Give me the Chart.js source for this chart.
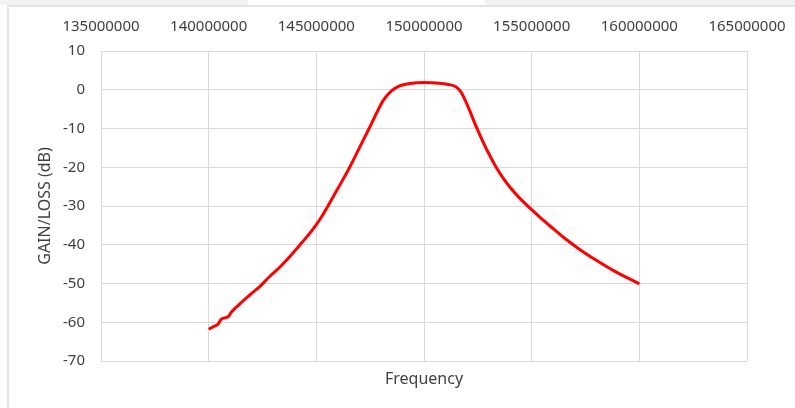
<!DOCTYPE html>
<html>
<head>
<meta charset="utf-8">
<script src="https://cdn.jsdelivr.net/npm/chart.js@4/dist/chart.umd.min.js"></script>
<style>
  html, body { margin: 0; padding: 0; background: #ffffff; }
  #wrap { position: relative; width: 795px; height: 408px; overflow: hidden; }
  .band { position: absolute; top: 0; height: 5px; background: #f2f2f2; }
  #frame {
    position: absolute; left: 7px; top: 5px; width: 800px; height: 420px;
    border-left: 2px solid #e3e3e3; border-top: 2px solid #e3e3e3;
  }
  #chartBox { position: absolute; left: 0; top: 0; width: 795px; height: 408px; }
</style>
</head>
<body>
<div id="wrap">
  <div class="band" style="left:0;width:248px"></div>
  <div class="band" style="left:485px;width:310px"></div>
  <div id="frame"></div>
  <div id="chartBox"><canvas id="filterChart"></canvas></div>
</div>
<script>
// --------------------------------
// Data (Hz, dB)
// --------------------------------
const freqHz = [
  140.0e6, 140.2e6, 140.43e6, 140.59e6, 140.9e6, 141.05e6, 141.44e6, 141.9e6,
  142.37e6, 142.83e6, 143.3e6, 143.76e6, 144.23e6, 144.7e6, 145.0e6, 145.23e6,
  145.54e6, 146.05e6, 146.55e6, 147.0e6, 147.45e6, 147.8e6, 148.1e6, 148.49e6,
  148.87e6, 149.34e6, 150.0e6, 150.73e6, 151.2e6, 151.43e6, 151.6e6, 151.74e6,
  152.04e6, 152.43e6, 152.73e6, 153.0e6, 153.33e6, 153.7e6, 154.06e6, 154.5e6,
  154.91e6, 155.4e6, 155.84e6, 156.46e6, 157.23e6, 158.0e6, 158.78e6, 160.0e6
];
const gainDb = [
  -61.8, -61.2, -60.5, -59.2, -58.6, -57.4, -55.3, -53.0,
  -50.8, -48.2, -45.8, -43.1, -40.1, -37.0, -34.8, -32.9,
  -30.0, -25.0, -20.0, -15.0, -10.0, -6.0, -2.8, -0.3,
  1.0, 1.6, 1.9, 1.7, 1.3, 0.9, 0.2, -0.8,
  -4.3, -9.6, -13.3, -16.4, -19.8, -23.0, -25.6, -28.3,
  -30.5, -33.0, -35.1, -38.0, -41.2, -44.0, -46.6, -50.1
];
const xTicksMin = 135000000;
const xTicksMax = 165000000;
const xTickStep = 5000000;
const yTicksMin = -70;
const yTicksMax = 10;
const yTickStep = 10;

// -------------------------------
// Chart
// -------------------------------
const ctx = document.getElementById("filterChart").getContext("2d");
const points = freqHz.map((f, i) => ({ x: f, y: gainDb[i] }));

const FONT = "'Noto Sans', 'Open Sans', sans-serif";
const TXT = "#404040";
const GRID = "#d9d9d9";

// keep the plot box where the reference has it
const fixTop = (s) => { s.height = 51; s.paddingLeft = 0; s.paddingRight = 0; };
const fixBottom = (s) => { s.height = 47; s.paddingLeft = 0; s.paddingRight = 0; };

new Chart(ctx, {
  type: "line",
  data: {
    datasets: [
      {
        label: "Gain",
        data: points,
        borderColor: "#ff0000",
        borderWidth: 3,
        pointRadius: 0,
        cubicInterpolationMode: "monotone",
        fill: false,
        xAxisID: "x",
        yAxisID: "y",
      },
    ],
  },
  options: {
    responsive: true,
    maintainAspectRatio: false,
    animation: false,
    layout: { padding: { left: 0, right: 48, top: 0, bottom: 0 } },
    plugins: { legend: { display: false }, tooltip: { enabled: false } },
    scales: {
      x: {
        type: "linear",
        position: "top",
        min: xTicksMin,
        max: xTicksMax,
        afterFit: fixTop,
        border: { display: false },
        grid: { color: GRID, lineWidth: 1, drawTicks: false },
        ticks: {
          stepSize: xTickStep,
          padding: 15,
          color: TXT,
          font: { family: FONT, size: 15 },
          maxRotation: 0,
          callback: (v) => String(v),
        },
      },
      x2: {
        type: "linear",
        position: "bottom",
        min: xTicksMin,
        max: xTicksMax,
        afterFit: fixBottom,
        border: { display: false },
        grid: { display: false, drawTicks: false },
        ticks: { display: false },
        title: {
          display: true,
          text: "Frequency",
          color: TXT,
          font: { family: FONT, size: 16 },
          padding: { top: 0, bottom: 19 },
        },
      },
      y: {
        min: yTicksMin,
        max: yTicksMax,
        afterFit: (s) => { s.width = 101; },
        border: { display: false },
        grid: { color: GRID, lineWidth: 1, drawTicks: false },
        ticks: {
          stepSize: yTickStep,
          padding: 16,
          color: TXT,
          font: { family: FONT, size: 15 },
        },
        title: {
          display: true,
          text: "GAIN/LOSS (dB)",
          color: TXT,
          font: { family: FONT, size: 16 },
          padding: { top: 36, bottom: 0 },
        },
      },
    },
  },
});
</script>
</body>
</html>
